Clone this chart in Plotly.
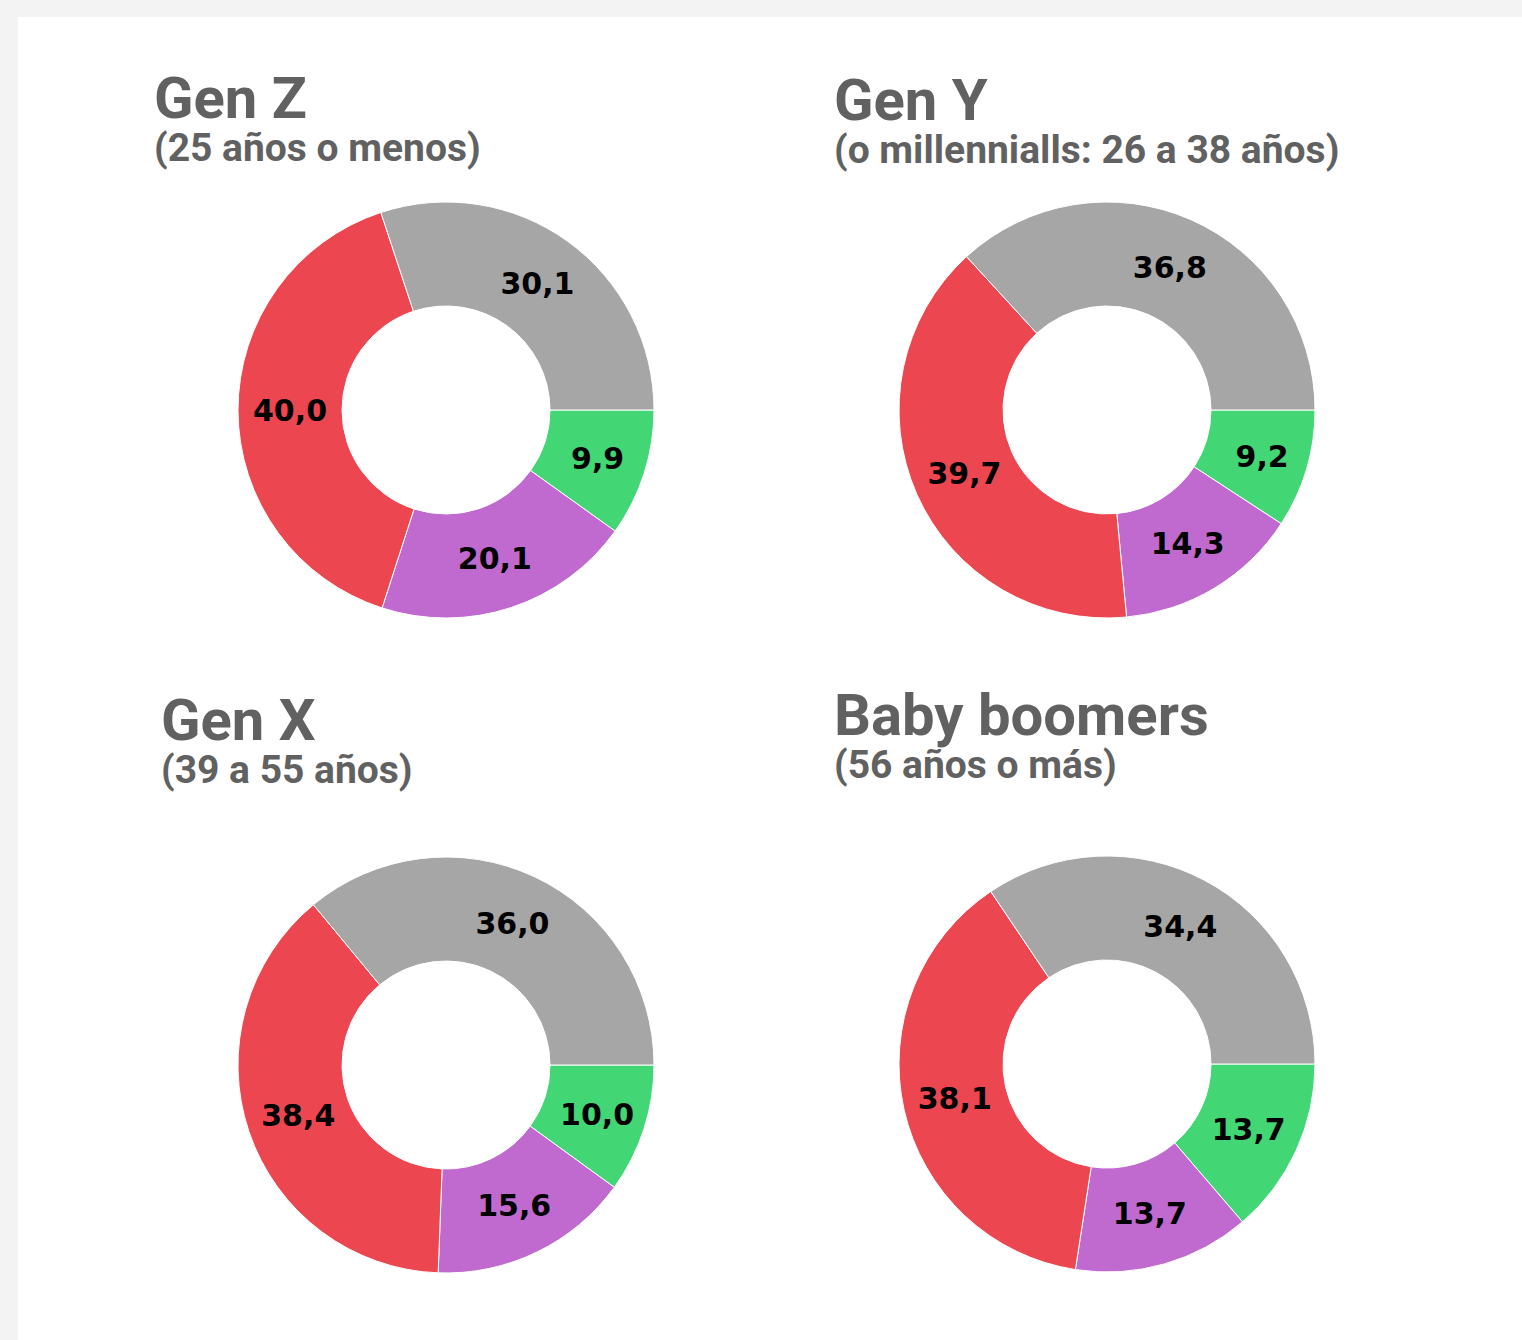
import plotly.graph_objects as go

# Data
categories = ["Verde", "Morado", "Rojo", "Gris"]
colors = ["#42d674", "#c06ad0", "#ec4750", "#a6a6a6"]
gen_z = [9.9, 20.1, 40.0, 30.1]
gen_y = [9.2, 14.3, 39.7, 36.8]
gen_x = [10.0, 15.6, 38.4, 36.0]
boomers = [13.7, 13.7, 38.1, 34.4]
titles = ["Gen Z", "Gen Y", "Gen X", "Baby boomers"]
subtitles = ["(25 años o menos)", "(o millennialls: 26 a 38 años)",
             "(39 a 55 años)", "(56 años o más)"]

W, H = 1522, 1340

def px_x(v):
    return v / W

def px_y(v):
    return 1 - v / H

# donut placements in pixels: (left, right, top, bottom)
boxes = [(238, 654, 202, 618), (899, 1315, 202, 618),
         (238, 654, 857, 1273), (899, 1315, 856, 1272)]
series = [gen_z, gen_y, gen_x, boomers]

fig = go.Figure()
for vals, (l, r, t, b) in zip(series, boxes):
    fig.add_trace(go.Pie(
        labels=categories, values=vals,
        hole=0.5, sort=False, direction="clockwise", rotation=90,
        marker=dict(colors=colors, line=dict(color="white", width=1)),
        texttemplate="%{value:.1f}", textposition="inside",
        insidetextorientation="horizontal",
        textfont=dict(family="DejaVu Sans", size=30, color="black", weight="bold"),
        domain=dict(x=[px_x(l), px_x(r)], y=[px_y(b), px_y(t)]),
        showlegend=False, hoverinfo="label+value",
    ))

# title block positions (left x, title baseline y)
title_pos = [(155, 120), (835, 122), (162, 742), (835, 737)]
annotations = []
for ttl, sub, (x, base) in zip(titles, subtitles, title_pos):
    annotations.append(dict(
        text=(f"<b><span style='font-size:58px'>{ttl}</span></b><br>"
              f"<b><span style='font-size:39px'>{sub}</span></b>"),
        x=px_x(x) - 0.002, y=px_y(base - 58), xref="paper", yref="paper",
        xanchor="left", yanchor="top", align="left", showarrow=False,
        font=dict(family="Roboto", size=33, color="#616161", weight="bold")))

fig.update_layout(
    width=W, height=H,
    margin=dict(l=0, r=0, t=0, b=0),
    paper_bgcolor="#f3f3f3",
    plot_bgcolor="white",
    separators=",.",
    annotations=annotations,
    shapes=[dict(type="rect", xref="paper", yref="paper",
                 x0=18 / W, x1=1, y0=0, y1=1 - 17 / H,
                 fillcolor="white", line=dict(width=0), layer="below")],
)

fig.write_html("out.html", config={"displayModeBar": False},
               post_script="document.body.style.margin='0';document.body.style.background='#f3f3f3';")
